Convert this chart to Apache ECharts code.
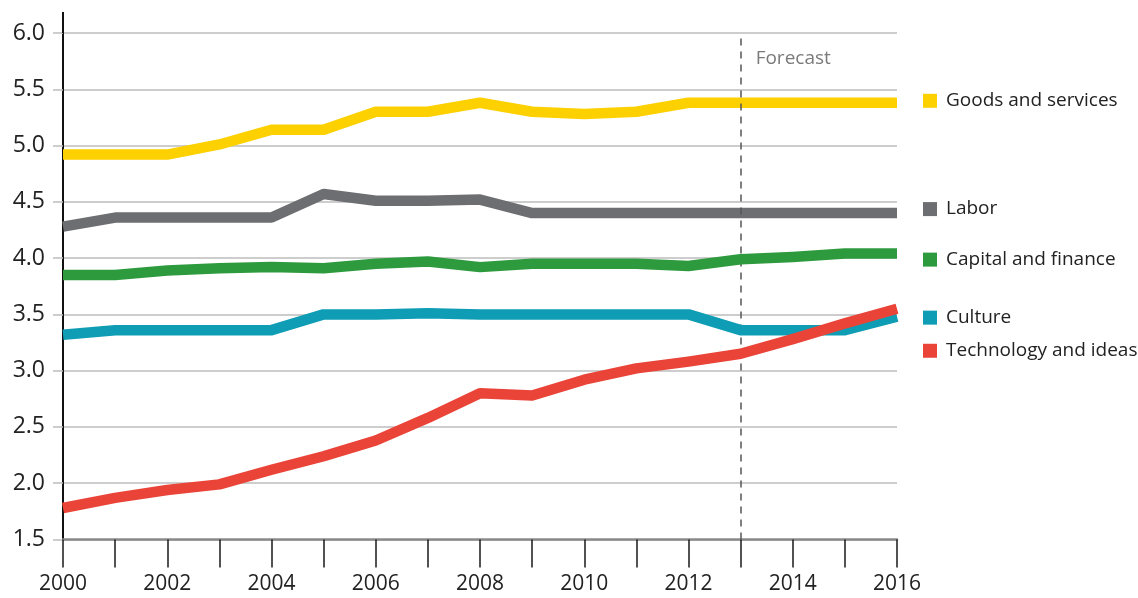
<!DOCTYPE html>
<html>
<head>
<meta charset="utf-8">
<script src="https://cdn.jsdelivr.net/npm/echarts@6/dist/echarts.min.js"></script>
<style>
  html, body { margin: 0; padding: 0; background: #ffffff; }
  #chart { width: 1138px; height: 598px; }
</style>
</head>
<body>
<div id="chart"></div>
<script>
// Years on the horizontal axis
const years = [2000, 2001, 2002, 2003, 2004, 2005, 2006, 2007, 2008, 2009, 2010, 2011, 2012, 2013, 2014, 2015, 2016];

// Index values per driver
const goodsAndServices   = [4.92, 4.92, 4.92, 5.01, 5.14, 5.14, 5.30, 5.30, 5.38, 5.30, 5.28, 5.30, 5.38, 5.38, 5.38, 5.38, 5.38];
const labor              = [4.28, 4.36, 4.36, 4.36, 4.36, 4.57, 4.51, 4.51, 4.52, 4.40, 4.40, 4.40, 4.40, 4.40, 4.40, 4.40, 4.40];
const capitalAndFinance  = [3.85, 3.85, 3.89, 3.91, 3.92, 3.91, 3.95, 3.97, 3.92, 3.95, 3.95, 3.95, 3.93, 3.99, 4.01, 4.04, 4.04];
const culture            = [3.32, 3.36, 3.36, 3.36, 3.36, 3.50, 3.50, 3.51, 3.50, 3.50, 3.50, 3.50, 3.50, 3.36, 3.36, 3.36, 3.48];
const technologyAndIdeas = [1.78, 1.87, 1.94, 1.99, 2.12, 2.24, 2.38, 2.58, 2.80, 2.78, 2.92, 3.02, 3.08, 3.15, 3.28, 3.42, 3.55];

const seriesNames = ['Goods and services', 'Labor', 'Capital and finance', 'Culture', 'Technology and ideas'];

// Value axis ticks
const yTickLabels = ['1.5', '2.0', '2.5', '3.0', '3.5', '4.0', '4.5', '5.0', '5.5', '6.0'];

// First forecast year
const forecastYear = 2013;
const forecastLabel = 'Forecast';

// Presentation
const FONT = '"Open Sans", "DejaVu Sans", sans-serif';
const seriesStyle = [
  { color: '#FDD000', labelShift: [26, -2] },
  { color: '#6D6E71', labelShift: [26, -4] },
  { color: '#2E9A3E', labelShift: [26, 6] },
  { color: '#0E9DB4', labelShift: [26, 1] },
  { color: '#EA4439', labelShift: [26, 42] }
];
const seriesValues = [goodsAndServices, labor, capitalAndFinance, culture, technologyAndIdeas];

const yMin = parseFloat(yTickLabels[0]);
const yMax = parseFloat(yTickLabels[yTickLabels.length - 1]);
const yStep = parseFloat(yTickLabels[1]) - yMin;

const chart = echarts.init(document.getElementById('chart'), null, { renderer: 'canvas' });

const series = seriesNames.map((name, i) => ({
  name: name,
  type: 'line',
  data: years.map((y, k) => [y, seriesValues[i][k]]),
  symbol: 'none',
  silent: true,
  lineStyle: { width: 10.5, color: seriesStyle[i].color, cap: 'butt', join: 'round' },
  itemStyle: { color: seriesStyle[i].color },
  z: 3 + i,
  endLabel: {
    show: true,
    distance: 0,
    offset: seriesStyle[i].labelShift,
    formatter: '{sq|}{t|' + name + '}',
    rich: {
      sq: { width: 14, height: 14, backgroundColor: seriesStyle[i].color },
      t: { fontFamily: FONT, fontSize: 19, color: '#222222', padding: [0, 0, 0, 9] }
    }
  }
}));

// Dashed divider marking where the forecast begins
series[0].markLine = {
  silent: true,
  symbol: 'none',
  animation: false,
  lineStyle: { color: '#555555', width: 1.5, type: [7, 6] },
  label: { show: false },
  data: [{ xAxis: forecastYear }]
};

chart.setOption({
  animation: false,
  backgroundColor: '#ffffff',
  grid: { left: 63, right: 241, top: 33, bottom: 58.5, containLabel: false },
  xAxis: {
    type: 'value',
    min: years[0],
    max: years[years.length - 1],
    interval: 1,
    axisLine: { show: true, onZero: false, lineStyle: { color: '#8a8a8a', width: 2.5 } },
    axisTick: { show: true, length: 28, lineStyle: { color: '#1a1a1a', width: 1.5 } },
    splitLine: { show: false },
    axisLabel: {
      margin: 34,
      fontFamily: FONT,
      fontSize: 21,
      color: '#222222',
      formatter: v => (v % 2 === 0 ? String(v) : '')
    }
  },
  yAxis: {
    type: 'value',
    min: yMin,
    max: yMax,
    interval: yStep,
    axisLine: { show: true, lineStyle: { color: '#111111', width: 2 } },
    axisTick: { show: true, length: 10, lineStyle: { color: '#bdbdbd', width: 1.5 } },
    splitLine: { show: true, lineStyle: { color: '#bdbdbd', width: 1.5 } },
    axisLabel: {
      margin: 18,
      fontFamily: FONT,
      fontSize: 23,
      color: '#222222',
      formatter: v => yTickLabels.find(t => Math.abs(parseFloat(t) - v) < 1e-6) || ''
    }
  },
  series: series
});

// Axis line continues a little above the top gridline; forecast caption beside the divider
const topLeft = chart.convertToPixel({ gridIndex: 0 }, [years[0], yMax]);
const forecastTop = chart.convertToPixel({ gridIndex: 0 }, [forecastYear, yMax]);
chart.setOption({
  graphic: [
    {
      type: 'line',
      silent: true,
      z: 10,
      shape: { x1: topLeft[0], y1: topLeft[1] - 21, x2: topLeft[0], y2: topLeft[1] },
      style: { stroke: '#111111', lineWidth: 2 }
    },
    {
      type: 'text',
      silent: true,
      z: 10,
      x: forecastTop[0] + 15,
      y: forecastTop[1] + 26,
      style: {
        text: forecastLabel,
        fontFamily: FONT,
        fontSize: 19,
        fill: '#7a7a7a',
        textAlign: 'left',
        textVerticalAlign: 'middle'
      }
    }
  ]
});
</script>
</body>
</html>
